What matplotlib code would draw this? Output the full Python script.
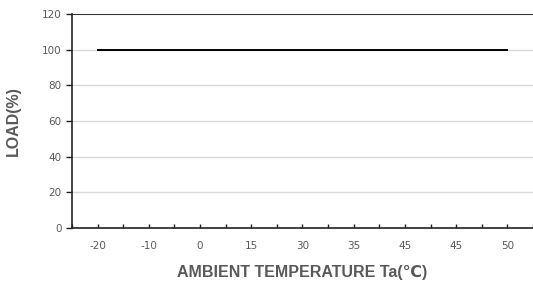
import numpy as np
import matplotlib.pyplot as plt

# categories on the x axis (as printed in the chart) and load values
temps = ['-20', '-10', '0', '15', '30', '35', '45', '45', '50']
load = [100, 100, 100, 100, 100, 100, 100, 100, 100]
yticks = [0, 20, 40, 60, 80, 100, 120]

fig = plt.figure(figsize=(5.33, 2.92), dpi=100)
ax = fig.add_axes([0.135, 0.219, 0.865, 0.733])

x = np.arange(len(temps))
ax.plot(x, load, color='black', lw=1.4, zorder=3)

ax.set_xlim(-0.5, len(temps) - 0.5)
ax.set_ylim(0, 120)
ax.set_yticks(yticks)
ax.grid(axis='y', color='#d9d9d9', lw=1)
ax.axhline(120, color='#222222', lw=1.3, zorder=4)

# ticks at category centres and boundaries
ax.set_xticks(x)
ax.set_xticklabels(temps)
ax.set_xticks(np.arange(len(temps) + 1) - 0.5, minor=True)
ax.tick_params(axis='x', which='both', direction='in', length=3, width=1,
               colors='#222222', labelcolor='#595959', labelsize=7.5, pad=9)
ax.tick_params(axis='y', direction='out', length=4, width=1,
               colors='#222222', labelcolor='#595959', labelsize=7.5)

for s in ['top', 'right']:
    ax.spines[s].set_visible(False)
for s in ['left', 'bottom']:
    ax.spines[s].set_color('#222222')
    ax.spines[s].set_linewidth(1.2)

fam = ['Liberation Sans', 'DejaVu Sans']
ax.set_xlabel('AMBIENT TEMPERATURE Ta(℃)', fontsize=11.5, fontweight='bold',
              color='#595959', family=fam, labelpad=10)
ax.set_ylabel('LOAD(%)', fontsize=11.5, fontweight='bold', color='#595959',
              family=fam, labelpad=15)

fig.savefig('out.png', dpi=100)
